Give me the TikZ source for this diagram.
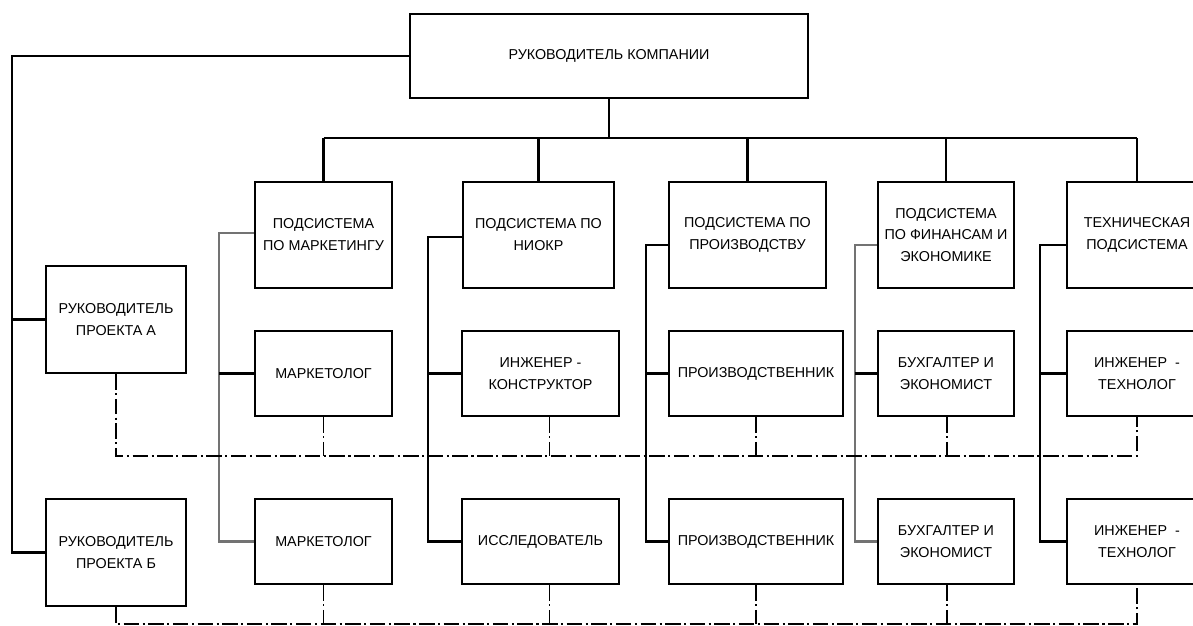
\documentclass[tikz,border=0pt]{standalone}
\usepackage{fontspec}
\setmainfont{Liberation Sans}
\usetikzlibrary{calc}

\begin{document}
\begin{tikzpicture}[x=0.025cm, y=-0.025cm, line width=1.6pt,
    unit/.style={draw, align=center, inner sep=2pt, font=\fontsize{10.2}{15.6}\selectfont, minimum height=2.125cm},
    dashdot/.style={line width=1.4pt, dash pattern=on 11pt off 2.5pt on 1.5pt off 2.5pt}]

    \clip (0,0) rectangle (1193,626);

    % руководство
    \node[unit, minimum width=9.95cm, minimum height=2.1cm] (head) at (609,56) {РУКОВОДИТЕЛЬ КОМПАНИИ};
    \node[unit, minimum width=3.5cm, minimum height=2.675cm] (pa) at (116,319.5) {РУКОВОДИТЕЛЬ\\ПРОЕКТА А};
    \node[unit, minimum width=3.5cm, minimum height=2.675cm] (pb) at (116,552.5) {РУКОВОДИТЕЛЬ\\ПРОЕКТА Б};

    % подсистемы и исполнители
    \foreach \c / \xc / \w / \txt in {1/323.5/3.425/{ПОДСИСТЕМА\\ПО МАРКЕТИНГУ}, 2/538.5/3.775/{ПОДСИСТЕМА ПО\\НИОКР}, 3/747.5/3.925/{ПОДСИСТЕМА ПО\\ПРОИЗВОДСТВУ}, 4/946/3.4/{ПОДСИСТЕМА\\ПО ФИНАНСАМ И\\ЭКОНОМИКЕ}, 5/1137/3.5/{ТЕХНИЧЕСКАЯ\\ПОДСИСТЕМА}}
        \node[unit, minimum width=\w cm, minimum height=2.65cm] (s\c) at (\xc,235) {\txt};

    \foreach \c / \xc / \w / \txt in {1/323.5/3.425/{МАРКЕТОЛОГ}, 2/540.5/3.925/{ИНЖЕНЕР -\\КОНСТРУКТОР}, 3/756/4.35/{ПРОИЗВОДСТВЕННИК}, 4/946/3.4/{БУХГАЛТЕР И\\ЭКОНОМИСТ}, 5/1137/3.5/{ИНЖЕНЕР \ -\\ТЕХНОЛОГ}}
        \node[unit, minimum width=\w cm] (a\c) at (\xc,373.5) {\txt};

    \foreach \c / \xc / \w / \txt in {1/323.5/3.425/{МАРКЕТОЛОГ}, 2/540.5/3.925/{ИССЛЕДОВАТЕЛЬ}, 3/756/4.35/{ПРОИЗВОДСТВЕННИК}, 4/946/3.4/{БУХГАЛТЕР И\\ЭКОНОМИСТ}, 5/1137/3.5/{ИНЖЕНЕР \ -\\ТЕХНОЛОГ}}
        \node[unit, minimum width=\w cm] (b\c) at (\xc,541.5) {\txt};

    % линейные связи
    \coordinate (corner) at (12,56);
    \coordinate (bus) at (0,138);
    \draw (head.west) -- (corner) |- (pb.west);
    \draw (pa.west) -- (pa.west -| corner);
    \draw (head.south) -- (head.south |- bus);
    \draw (s1.north |- bus) -- (s5.north |- bus);
    \foreach \c in {1,...,5}
        \draw (s\c.north) -- (s\c.north |- bus);

    \foreach \c / \bx / \dy / \col in {1/219/-2/black!55, 2/428/2/black, 3/646/10/black, 4/855/10/black!55, 5/1040/10/black} {
        \coordinate (v\c) at (\bx,0);
        \draw[\col] ($(s\c.west)+(0,\dy)$) -| (v\c |- b\c.west) -- (b\c.west);
        \draw (a\c.west) -- (a\c.west -| v\c);
    }

    % проектные связи
    \coordinate (d1) at (0,456);
    \coordinate (d2) at (0,624);
    \draw[dashdot] (pa.south) |- (a5.south |- d1) -- (a5.south);
    \draw[dashdot] (pb.south) |- (b5.south |- d2) -- (b5.south);
    \foreach \c / \dx in {1/0pt, 2/6.4pt, 3/0pt, 4/0.7pt} {
        \draw[dashdot] ([xshift=\dx]a\c.south) -- ([xshift=\dx]a\c.south |- d1);
        \draw[dashdot] ([xshift=\dx]b\c.south) -- ([xshift=\dx]b\c.south |- d2);
    }

\end{tikzpicture}
\end{document}
